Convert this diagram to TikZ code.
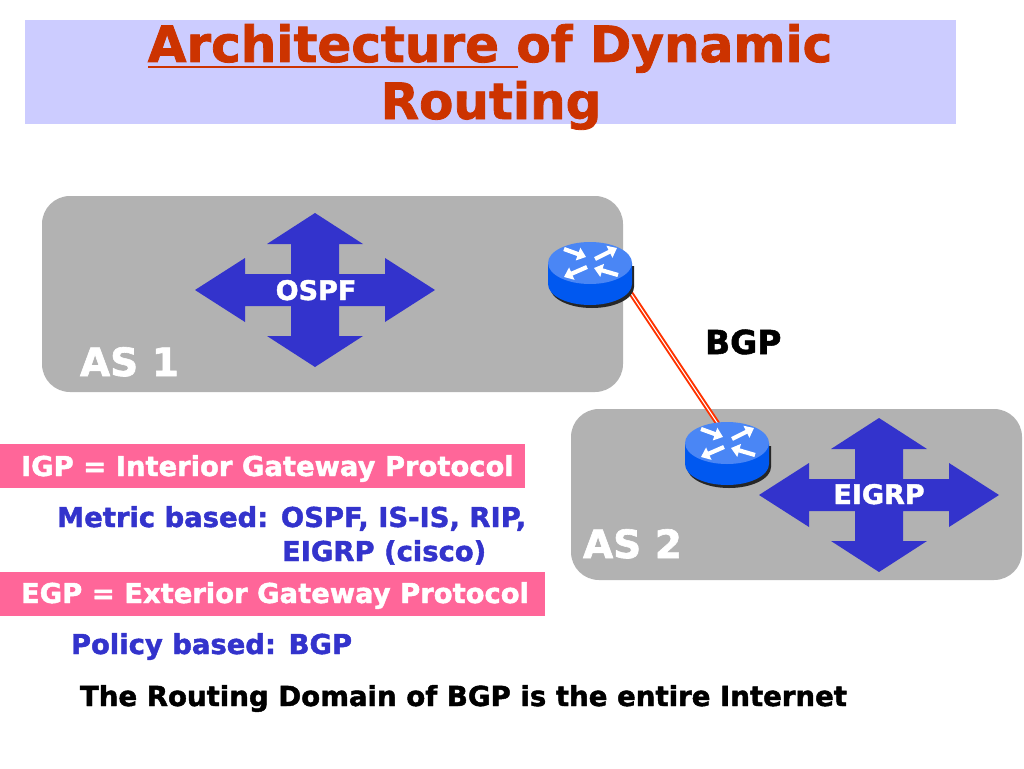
\documentclass[tikz,border=0pt]{standalone}
\usepackage{fontspec}
\setmainfont{DejaVu Sans}[BoldFeatures={FakeBold=1.6}]
\usetikzlibrary{arrows.meta}
\definecolor{titlered}{HTML}{CC3300}
\definecolor{lav}{HTML}{CCCCFF}
\definecolor{asgrey}{HTML}{B2B2B2}
\definecolor{xblue}{HTML}{3333CC}
\definecolor{pinkbox}{HTML}{FF6699}
\definecolor{rtop}{HTML}{4A86F5}
\definecolor{rside}{HTML}{0058F0}
\definecolor{bgpred}{HTML}{FF3300}
\newcommand{\myfs}[1]{\fontsize{#1}{#1}\selectfont\bfseries}
\tikzset{
  txt/.style={inner sep=0pt, outer sep=0pt},
  crossarrow/.pic={
    \fill[xblue] (0,-77) -- (48,-46) -- (24,-46) -- (24,-16) -- (70,-16) -- (70,-32)
      -- (120,0) -- (70,32) -- (70,16) -- (24,16) -- (24,46) -- (48,46) -- (0,77)
      -- (-48,46) -- (-24,46) -- (-24,16) -- (-70,16) -- (-70,32) -- (-120,0)
      -- (-70,-32) -- (-70,-16) -- (-24,-16) -- (-24,-46) -- (-48,-46) -- cycle;
  },
  rarrow/.style={white, line width=4.2pt, -{Triangle[length=8.5pt,width=13pt]}},
  router/.pic={
    \fill[black!85] (-40,3) -- (-40,24) arc[start angle=180,end angle=0,x radius=42,y radius=21] -- (44,3) -- cycle;
    \fill[rside] (-42,0) -- (-42,21) arc[start angle=180,end angle=0,x radius=42,y radius=21] -- (42,0) -- cycle;
    \fill[rtop] (0,0) ellipse[x radius=42,y radius=21];
    \draw[rarrow] (-26,-14) -- (-4,-6);
    \draw[rarrow] (5,-4) -- (27,-15);
    \draw[rarrow] (-3,4) -- (-26,14);
    \draw[rarrow] (28,12) -- (4,5);
  }
}
\begin{document}
\begin{tikzpicture}[x=1pt,y=-1pt]
\useasboundingbox[fill=white] (0,0) rectangle (1024,768);
% title
\fill[lav] (25,20) rectangle (956,124);
\node[txt, anchor=base, text=titlered] (t1) at (490,62) {\myfs{50}Architecture of Dynamic};
\node[txt, anchor=base, text=titlered] (t2) at (491,119) {\myfs{50}Routing};
\draw[titlered, line width=2.5pt] (148,67) -- (518,67);
% AS boxes
\fill[asgrey, rounded corners=28pt] (42,196) rectangle (623,392);
\fill[asgrey, rounded corners=28pt] (571,409) rectangle (1022,580);
% cross arrows
\pic at (315,290) {crossarrow};
\pic at (879,495) {crossarrow};
\node[txt, anchor=base, text=white] (ospf) at (316,300) {\myfs{27}OSPF};
\node[txt, anchor=base, text=white] (eigrp) at (879,504) {\myfs{27}EIGRP};
% AS labels
\node[txt, anchor=base west, text=white] (as1) at (80,376) {\myfs{39}AS 1};
\node[txt, anchor=base west, text=white] (as2) at (583,558) {\myfs{39}AS 2};
% BGP link
\coordinate (b1) at (630,292);
\coordinate (b2) at (718,424);
\draw[draw=bgpred, double=white, double distance=1pt, line width=2pt] (b1) -- (b2);
% routers
\pic at (590,263) {router};
\pic at (727,443) {router};
\node[txt, anchor=base west] (bgp) at (705,354) {\myfs{33}BGP};
% protocol boxes
\fill[pinkbox] (0,444) rectangle (525,488);
\node[txt, anchor=base west, text=white] (igp) at (21,476) {\myfs{27.4}IGP = Interior Gateway Protocol};
\node[txt, anchor=base west, text=xblue] (metric) at (57,527) {\myfs{27.4}Metric based: OSPF, IS-IS, RIP,};
\node[txt, anchor=base west, text=xblue] (metric2) at (282,561) {\myfs{27.4}EIGRP (cisco)};
\fill[pinkbox] (0,572) rectangle (545,616);
\node[txt, anchor=base west, text=white] (egp) at (21,603) {\myfs{27.4}EGP = Exterior Gateway Protocol};
\node[txt, anchor=base west, text=xblue] (policy) at (71,654) {\myfs{27.4}Policy based: BGP};
\node[txt, anchor=base west] (domain) at (80,706) {\myfs{27.6}The Routing Domain of BGP is the entire Internet};
\end{tikzpicture}
\end{document}
